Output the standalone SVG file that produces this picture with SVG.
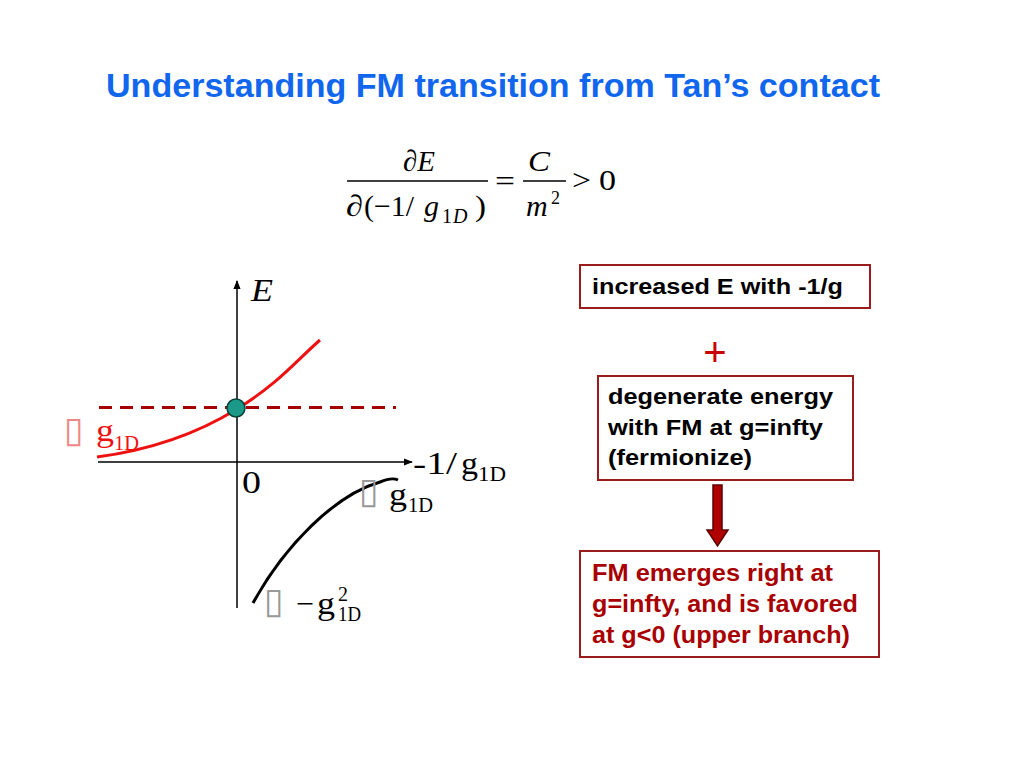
<svg xmlns="http://www.w3.org/2000/svg" width="1024" height="768" viewBox="0 0 1024 768">
<style>
.title{font-family:"Liberation Sans",Arial,sans-serif;font-weight:bold;font-size:33px;fill:#1166EE}
.math{font-family:"Liberation Serif","Times New Roman",serif;font-size:30px;fill:#000}
.ax{font-family:"Liberation Serif","Times New Roman",serif;font-size:31px;fill:#000}
.sub{font-family:"Liberation Serif","Times New Roman",serif;font-size:20px;fill:#000}
.it{font-style:italic}
.tofu{font-family:"DejaVu Sans",sans-serif;font-size:36px}
.box{fill:#fff;stroke:#9B1C1C;stroke-width:2}
.bt{font-family:"Liberation Sans",Arial,sans-serif;font-weight:bold;font-size:22px;fill:#000}
.bt3{font-family:"Liberation Sans",Arial,sans-serif;font-weight:bold;font-size:23px;fill:#A80000}
.axis{stroke:#000;stroke-width:1.5;fill:none}
.red{fill:#EE1111}
</style>
<defs>
<marker id="ah" viewBox="0 0 10 10" refX="9" refY="5" markerWidth="9" markerHeight="9" markerUnits="userSpaceOnUse" orient="auto">
<path d="M0,1 L10,5 L0,9 Z" fill="#000"/>
</marker>
</defs>
<rect width="1024" height="768" fill="#fff"/>
<text id="title" class="title" x="106" y="97" textLength="774" lengthAdjust="spacingAndGlyphs">Understanding FM transition from Tan’s contact</text>

<g id="formula">
<text class="math" x="403" y="171" textLength="32" lengthAdjust="spacingAndGlyphs">∂<tspan class="it">E</tspan></text>
<line x1="347" y1="181" x2="488" y2="181" stroke="#000" stroke-width="1.3"/>
<text class="math" x="346" y="216" textLength="17" lengthAdjust="spacingAndGlyphs">∂</text>
<text class="math" x="364" y="216" textLength="10" lengthAdjust="spacingAndGlyphs">(</text>
<text class="math" x="374" y="216" textLength="40" lengthAdjust="spacingAndGlyphs">−1/</text>
<text class="math" y="216"><tspan class="it" x="424">g</tspan><tspan x="442" y="223" font-size="20">1</tspan><tspan class="it" y="223" font-size="20" dx="1">D</tspan></text>
<text class="math" x="475" y="216" textLength="11" lengthAdjust="spacingAndGlyphs">)</text>
<text class="math" x="495" y="191" textLength="20" lengthAdjust="spacingAndGlyphs">=</text>
<text class="math it" x="528" y="171" textLength="22" lengthAdjust="spacingAndGlyphs">C</text>
<line x1="523" y1="181" x2="566" y2="181" stroke="#000" stroke-width="1.3"/>
<text class="math" y="216"><tspan class="it" x="526">m</tspan><tspan x="551" y="204" font-size="18">2</tspan></text>
<text class="math" x="572" y="190" textLength="19" lengthAdjust="spacingAndGlyphs">&gt;</text>
<text class="math" x="599" y="190" textLength="17" lengthAdjust="spacingAndGlyphs">0</text>
</g>

<g id="plot">
<line class="axis" x1="237" y1="608" x2="237" y2="281" marker-end="url(#ah)"/>
<line class="axis" x1="98" y1="462" x2="412" y2="462" marker-end="url(#ah)"/>
<text class="ax it" x="251" y="301" textLength="22" lengthAdjust="spacingAndGlyphs">E</text>
<text class="ax" x="413" y="474" textLength="44" lengthAdjust="spacingAndGlyphs">-1/</text>
<text class="ax" x="461" y="474" textLength="17" lengthAdjust="spacingAndGlyphs">g</text>
<text class="sub" x="478" y="481" textLength="28" lengthAdjust="spacingAndGlyphs">1D</text>
<text class="ax" x="242" y="493" font-size="32" textLength="19" lengthAdjust="spacingAndGlyphs">0</text>
<line x1="99" y1="407.5" x2="396" y2="407.5" stroke="#A50000" stroke-width="3" stroke-dasharray="13,8"/>
<path d="M97,457 C150,450 195,435 237,409 S295,362 320,340" fill="none" stroke="#EE1111" stroke-width="3"/>
<path d="M253,603 C285,545 335,495 380,482 Q392,477 398,480" fill="none" stroke="#000" stroke-width="3"/>
<circle cx="236" cy="408" r="9" fill="#1A9988" stroke="#0B3F3A" stroke-width="1.5"/>
<text class="tofu" x="64" y="442" fill="#EE8888" textLength="20" lengthAdjust="spacingAndGlyphs">▯</text>
<text class="ax red" x="96" y="441" textLength="18" lengthAdjust="spacingAndGlyphs">g</text>
<text class="sub red" x="114" y="450" textLength="25" lengthAdjust="spacingAndGlyphs">1D</text>
<text class="tofu" x="359" y="503" fill="#999" textLength="20" lengthAdjust="spacingAndGlyphs">▯</text>
<text class="ax" x="389" y="505" textLength="18" lengthAdjust="spacingAndGlyphs">g</text>
<text class="sub" x="408" y="512" textLength="25" lengthAdjust="spacingAndGlyphs">1D</text>
<text class="tofu" x="264" y="613" fill="#999" textLength="20" lengthAdjust="spacingAndGlyphs">▯</text>
<text class="ax" x="296" y="614" textLength="18" lengthAdjust="spacingAndGlyphs">−</text>
<text class="ax" x="317" y="614" textLength="18" lengthAdjust="spacingAndGlyphs">g</text>
<text class="sub" x="338" y="601" font-size="17" textLength="10" lengthAdjust="spacingAndGlyphs">2</text>
<text class="sub" x="338" y="621" textLength="23" lengthAdjust="spacingAndGlyphs">1D</text>
</g>

<g id="box1">
<rect class="box" x="580" y="265" width="290" height="43"/>
<text class="bt" x="592" y="294" textLength="251" lengthAdjust="spacingAndGlyphs">increased E with -1/g</text>
</g>
<g id="plus">
<text x="715" y="366" text-anchor="middle" font-family="Liberation Sans,Arial,sans-serif" font-size="40" fill="#C80000">+</text>
</g>
<g id="box2">
<rect class="box" x="598" y="376" width="255" height="104"/>
<text class="bt" x="608" y="404" textLength="225" lengthAdjust="spacingAndGlyphs">degenerate energy</text>
<text class="bt" x="608" y="435" textLength="215" lengthAdjust="spacingAndGlyphs">with FM at g=infty</text>
<text class="bt" x="608" y="465" textLength="144" lengthAdjust="spacingAndGlyphs">(fermionize)</text>
</g>
<g id="connectors">
<polygon points="713,485 722,485 722,530 728,530 717.5,546 707,530 713,530" fill="#B00000" stroke="#5A0000" stroke-width="1.5"/>
</g>
<g id="box3">
<rect class="box" x="580" y="551" width="299" height="106"/>
<text class="bt3" x="592" y="581" textLength="241" lengthAdjust="spacingAndGlyphs">FM emerges right at</text>
<text class="bt3" x="592" y="612" textLength="266" lengthAdjust="spacingAndGlyphs">g=infty, and is favored</text>
<text class="bt3" x="592" y="643" textLength="258" lengthAdjust="spacingAndGlyphs">at g&lt;0 (upper branch)</text>
</g>
</svg>
